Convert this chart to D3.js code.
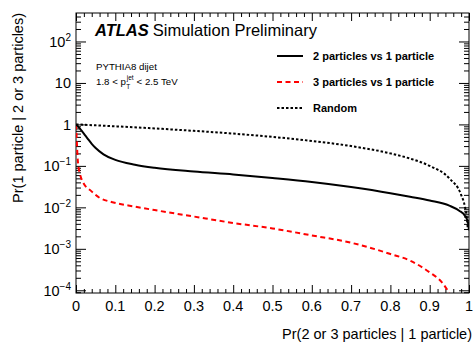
<!DOCTYPE html>
<html>
<head>
<meta charset="utf-8">
<script src="https://cdn.jsdelivr.net/npm/d3@7/dist/d3.min.js"></script>
<style>
  html, body { margin: 0; padding: 0; background: #fff; }
  svg { display: block; }
  text { font-family: "Liberation Sans", Arial, Helvetica, sans-serif; fill: #000; }
</style>
</head>
<body>
<svg id="chart" width="474" height="342"></svg>
<script>
// Efficiency of the 1-particle tag vs. mis-tag of 2 or 3 particles
const xTwo = [0, 0.005, 0.01, 0.02, 0.03, 0.04, 0.05, 0.07, 0.1, 0.15, 0.2, 0.3, 0.4, 0.5, 0.6, 0.7, 0.8, 0.85, 0.9, 0.95, 0.975, 0.99, 0.997, 1.0];
const yTwo = [1, 0.9, 0.79, 0.6, 0.45, 0.34, 0.27, 0.19, 0.14, 0.107, 0.09, 0.073, 0.062, 0.051, 0.041, 0.031, 0.022, 0.018, 0.0146, 0.011, 0.0083, 0.0062, 0.0045, 0.0028];

const xThree = [0, 0.002, 0.004, 0.006, 0.01, 0.02, 0.036, 0.06, 0.09, 0.15, 0.2, 0.3, 0.4, 0.5, 0.6, 0.7, 0.75, 0.8, 0.85, 0.9, 0.93, 0.95];
const yThree = [1, 0.4, 0.16, 0.1, 0.064, 0.037, 0.026, 0.017, 0.0135, 0.0104, 0.0086, 0.006, 0.0042, 0.0031, 0.0021, 0.0014, 0.00105, 0.00075, 0.00052, 0.00027, 0.00016, 0.000086];

const xRandom = [0, 0.05, 0.1, 0.2, 0.3, 0.4, 0.5, 0.6, 0.7, 0.8, 0.85, 0.9, 0.95, 0.98, 0.99, 0.995, 0.997];
const yRandom = [1, 0.95, 0.9, 0.8, 0.7, 0.6, 0.5, 0.4, 0.3, 0.2, 0.15, 0.1, 0.05, 0.02, 0.01, 0.005, 0.003];

const xTickValues = [0, 0.1, 0.2, 0.3, 0.4, 0.5, 0.6, 0.7, 0.8, 0.9, 1];
const xTickLabels = ["0", "0.1", "0.2", "0.3", "0.4", "0.5", "0.6", "0.7", "0.8", "0.9", "1"];
const yTickValues = [1e-4, 1e-3, 1e-2, 1e-1, 1, 10, 100];
const yTickBase = ["10", "10", "10", "10", "1", "10", "10"];
const yTickExp = ["\u22124", "\u22123", "\u22122", "\u22121", "", "", "2"];

const seriesNames = ["2 particles vs 1 particle", "3 particles vs 1 particle", "Random"];

const xDomain = [0, 1];
const yDomain = [8.6e-5, 486];

const frame = { left: 76, right: 469, top: 13, bottom: 293 };

const svg = d3.select("#chart");

const x = d3.scaleLinear().domain(xDomain).range([frame.left, frame.right]);
const y = d3.scaleLog().domain(yDomain).range([frame.bottom, frame.top]);

svg.append("defs").append("clipPath").attr("id", "plotclip")
  .append("rect")
  .attr("x", frame.left).attr("y", frame.top)
  .attr("width", frame.right - frame.left).attr("height", frame.bottom - frame.top);

// minor tick values
const xMinor = d3.range(0, 51).map(i => i / 50).filter(v => Math.round(v * 50) % 5 !== 0);
const yMinor = [];
for (let e = -5; e <= 2; e++) {
  for (let m = 2; m <= 9; m++) {
    const v = m * Math.pow(10, e);
    if (v >= yDomain[0] && v <= yDomain[1]) yMinor.push(v);
  }
}

function styleAxis(g) {
  g.select(".domain").remove();
  g.selectAll(".tick line").attr("stroke", "#000").attr("stroke-width", 1);
  g.selectAll(".tick text").remove();
}

// bottom and top axes (ticks pointing inward)
svg.append("g").attr("transform", `translate(0,${frame.bottom})`)
  .call(d3.axisBottom(x).tickValues(xTickValues).tickSize(-8)).call(styleAxis);
svg.append("g").attr("transform", `translate(0,${frame.bottom})`)
  .call(d3.axisBottom(x).tickValues(xMinor).tickSize(-4)).call(styleAxis);
svg.append("g").attr("transform", `translate(0,${frame.top})`)
  .call(d3.axisTop(x).tickValues(xTickValues).tickSize(-8)).call(styleAxis);
svg.append("g").attr("transform", `translate(0,${frame.top})`)
  .call(d3.axisTop(x).tickValues(xMinor).tickSize(-4)).call(styleAxis);

// left and right axes
svg.append("g").attr("transform", `translate(${frame.left},0)`)
  .call(d3.axisLeft(y).tickValues(yTickValues).tickSize(-10)).call(styleAxis);
svg.append("g").attr("transform", `translate(${frame.left},0)`)
  .call(d3.axisLeft(y).tickValues(yMinor).tickSize(-5)).call(styleAxis);
svg.append("g").attr("transform", `translate(${frame.right},0)`)
  .call(d3.axisRight(y).tickValues(yTickValues).tickSize(-10)).call(styleAxis);
svg.append("g").attr("transform", `translate(${frame.right},0)`)
  .call(d3.axisRight(y).tickValues(yMinor).tickSize(-5)).call(styleAxis);

// frame
svg.append("rect")
  .attr("x", frame.left).attr("y", frame.top)
  .attr("width", frame.right - frame.left).attr("height", frame.bottom - frame.top)
  .attr("fill", "none").attr("stroke", "#000").attr("stroke-width", 1);

// x tick labels
svg.append("g").selectAll("text").data(xTickValues).join("text")
  .attr("x", d => x(d)).attr("y", 311)
  .attr("text-anchor", "middle").attr("font-size", 14.5)
  .text((d, i) => xTickLabels[i]);

// y tick labels with exponents
const yl = svg.append("g").selectAll("text").data(yTickValues).join("text")
  .attr("x", 71).attr("y", d => y(d) + 5.5)
  .attr("text-anchor", "end").attr("font-size", 14.5);
yl.append("tspan").text((d, i) => yTickBase[i]);
yl.append("tspan").attr("dy", -6).attr("font-size", 10)
  .text((d, i) => yTickExp[i]);

// axis titles
svg.append("text")
  .attr("x", 472).attr("y", 339)
  .attr("text-anchor", "end").attr("font-size", 14.5)
  .text("Pr(2 or 3 particles | 1 particle)");
svg.append("text")
  .attr("transform", "translate(23,13) rotate(-90)")
  .attr("text-anchor", "end").attr("font-size", 14.5)
  .text("Pr(1 particle | 2 or 3 particles)");

// curves
const line = d3.line().x(d => x(d[0])).y(d => y(d[1])).curve(d3.curveMonotoneX);
const plot = svg.append("g").attr("clip-path", "url(#plotclip)");

const series = [
  { xs: xRandom, ys: yRandom, color: "#000", dash: "2.5,2" },
  { xs: xThree, ys: yThree, color: "#ff0000", dash: "5,3.5" },
  { xs: xTwo, ys: yTwo, color: "#000", dash: null }
];
series.forEach(s => {
  plot.append("path")
    .datum(s.xs.map((v, i) => [v, s.ys[i]]))
    .attr("fill", "none")
    .attr("stroke", s.color)
    .attr("stroke-width", 2)
    .attr("stroke-dasharray", s.dash)
    .attr("d", line);
});

// ATLAS label
const atlas = svg.append("text").attr("x", 95).attr("y", 36).attr("font-size", 16.5);
atlas.append("tspan").attr("font-weight", "bold").attr("font-style", "italic").text("ATLAS");
atlas.append("tspan").attr("dx", 4).text("Simulation Preliminary");

svg.append("text").attr("x", 96).attr("y", 70).attr("font-size", 9.7).text("PYTHIA8 dijet");

// kinematic range: p_T^jet built from separate pieces
const kinA = svg.append("text").attr("x", 96).attr("y", 85).attr("font-size", 9.7).text("1.8 < p");
const pEnd = 96 + kinA.node().getComputedTextLength();
const sup = svg.append("text").attr("x", pEnd + 0.8).attr("y", 79.5).attr("font-size", 6.5).text("jet");
svg.append("text").attr("x", pEnd + 0.3).attr("y", 88.5).attr("font-size", 6.5).text("T");
const supEnd = pEnd + 0.8 + sup.node().getComputedTextLength();
svg.append("text").attr("x", supEnd + 3).attr("y", 85).attr("font-size", 9.7).text("< 2.5 TeV");

// legend
const legendY = [56, 82, 108];
const legendStyles = [
  { color: "#000", dash: null },
  { color: "#ff0000", dash: "5,3.5" },
  { color: "#000", dash: "2.5,2" }
];
const leg = svg.append("g");
seriesNames.forEach((name, i) => {
  leg.append("line")
    .attr("x1", 277).attr("x2", 303)
    .attr("y1", legendY[i]).attr("y2", legendY[i])
    .attr("stroke", legendStyles[i].color)
    .attr("stroke-width", 2)
    .attr("stroke-dasharray", legendStyles[i].dash);
  leg.append("text")
    .attr("x", 313).attr("y", legendY[i] + 4)
    .attr("font-size", 11).attr("font-weight", "bold")
    .text(name);
});
</script>
</body>
</html>
